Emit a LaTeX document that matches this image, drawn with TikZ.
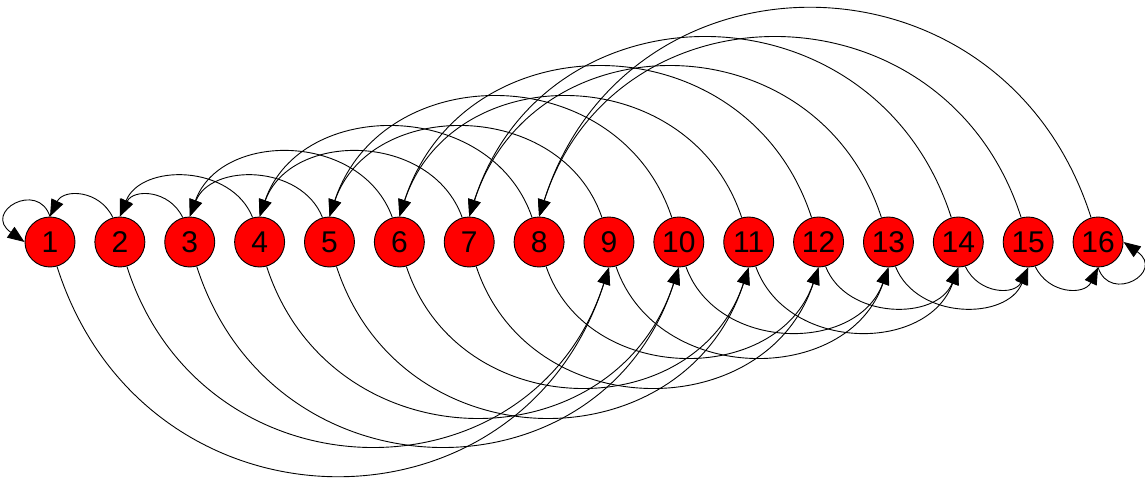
\documentclass[tikz,border=0pt]{standalone}
\usepackage{fontspec}
\setmainfont{Liberation Sans}
\usetikzlibrary{arrows.meta}
\begin{document}
\begin{tikzpicture}[x=1pt,y=-1pt,
  vtx/.style={circle,draw=black,line width=0.9pt,fill=red,minimum size=50pt,inner sep=0pt,
    font=\fontsize{30}{32}\selectfont},
  edge/.style={draw=black,line width=0.9pt,-{Triangle[length=17pt,width=13pt]}}]
\useasboundingbox (0,0) rectangle (1145,478);
\foreach \i in {1,...,16}{
  \node[vtx] (n\i) at ({50+69.87*(\i-1)},242) {\i};
}
% upper arcs: j -> ceil(j/2)
\foreach \s/\t/\k in {2/1/28, 3/2/28, 4/2/53.5, 5/3/53.5, 6/3/86, 7/4/86, 8/4/119.3, 9/5/119.3,
  10/5/159.3, 11/6/159.3, 12/6/199.3, 13/7/199.3, 14/7/238, 15/8/238, 16/8/277}{
  \pgfmathsetmacro\c{0.3*\k+5}
  \draw[edge] (n\s.106) .. controls +(-\c,-\k) and +(\c,-\k) .. (n\t.north);
}
% lower arcs: i -> 8+ceil(i/2)
\foreach \s/\t/\k in {1/9/277, 2/9/238, 3/10/238, 4/10/199.3, 5/11/199.3, 6/11/159.3, 7/12/159.3,
  8/12/119.3, 9/13/119.3, 10/13/86, 11/14/86, 12/14/53.5, 13/15/53.5, 14/15/28, 15/16/28}{
  \pgfmathsetmacro\c{0.3*\k+5}
  \draw[edge] (n\s.-74) .. controls +(\c,\k) and +(-\c,\k) .. (n\t.south);
}
% self loops
\draw[edge] (n1.north) .. controls (38,180) and (-18,212) .. (n1.west);
\draw[edge] (n16.south) .. controls (1110,304) and (1166,272) .. (n16.east);
\end{tikzpicture}
\end{document}
